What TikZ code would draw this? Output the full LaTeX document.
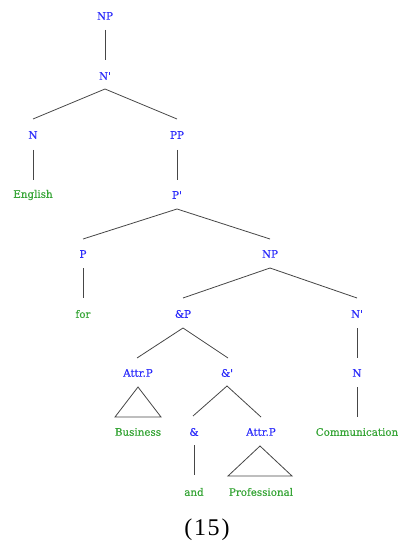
\documentclass[tikz,border=0pt]{standalone}
\usepackage{fontspec}
\setmainfont{DejaVu Serif}
\newfontfamily\lblfont{DejaVu Serif}[FakeBold=0.5]
\newfontfamily\timesfont{Liberation Serif}
\definecolor{catblue}{RGB}{45,45,250}
\definecolor{wordgreen}{RGB}{55,165,55}
\definecolor{edgegray}{RGB}{70,70,70}
\newcommand{\pr}{\char"27}
\begin{document}
\begin{tikzpicture}[x=1pt,y=-1pt,
  cat/.style={text=catblue,font=\lblfont\fontsize{10.3}{11}\selectfont,inner sep=0pt,anchor=center},
  word/.style={text=wordgreen,font=\lblfont\fontsize{10.3}{11}\selectfont,inner sep=0pt,anchor=center},
  edge/.style={draw=edgegray,line width=0.8pt}]
\useasboundingbox (0,0) rectangle (402,545);
% nodes
\node[cat] (np1) at (105,16) {NP};
\node[cat] (nb1) at (105,76) {N\pr};
\node[cat] (n1) at (33,135) {N};
\node[cat] (pp) at (177,135) {PP};
\node[word] (english) at (33,195) {English};
\node[cat] (pb) at (177,195) {P\pr};
\node[cat] (p) at (83,254) {P};
\node[cat] (np2) at (270,254) {NP};
\node[word] (for) at (83,314) {for};
\node[cat] (andp) at (183,314) {\&P};
\node[cat] (nb2) at (357,314) {N\pr};
\node[cat] (attr1) at (138,373) {Attr.P};
\node[cat] (andb) at (227,373) {\&\pr};
\node[cat] (n2) at (357,373) {N};
\node[word] (business) at (138,432) {Business};
\node[cat] (amp) at (194,432) {\&};
\node[cat] (attr2) at (261,432) {Attr.P};
\node[word] (comm) at (357,432) {Communication};
\node[word] (and) at (194,492) {and};
\node[word] (prof) at (261,492) {Professional};
\node[text=black,font=\timesfont\fontsize{24}{26}\selectfont,inner sep=0pt] (num) at (207,530) {(\kern2pt 1\kern1.5pt 5\kern2pt )};
% coordinates
\coordinate (np1b) at (105,30);
\coordinate (nb1t) at (105,60);
\coordinate (nb1b) at (105,89);
\coordinate (n1t) at (33,119);
\coordinate (ppt) at (177,119);
\coordinate (n1b) at (33,150);
\coordinate (engt) at (33,180);
\coordinate (ppb) at (177,150);
\coordinate (pbt) at (177,180);
\coordinate (pbb) at (177,209);
\coordinate (pt) at (83,239);
\coordinate (np2t) at (270,239);
\coordinate (pb2) at (83,268);
\coordinate (fort) at (83,298);
\coordinate (np2b) at (270,268);
\coordinate (andpt) at (183,298);
\coordinate (nb2t) at (357,298);
\coordinate (andpb) at (183,328);
\coordinate (attr1t) at (137,358);
\coordinate (andbt) at (228,358);
\coordinate (nb2b) at (357,328);
\coordinate (n2t) at (357,358);
\coordinate (attr1b) at (138,387);
\coordinate (bl1) at (115,417);
\coordinate (br1) at (161,417);
\coordinate (andbb) at (227,386);
\coordinate (ampt) at (193,416);
\coordinate (attr2t) at (261,417);
\coordinate (n2b) at (357,387);
\coordinate (commt) at (357,417);
\coordinate (ampb) at (194,445);
\coordinate (andt) at (194,475);
\coordinate (attr2b) at (260,446);
\coordinate (bl2) at (228,476);
\coordinate (br2) at (292,476);
% edges
\draw[edge] (np1b) -- (nb1t);
\draw[edge] (n1t) -- (nb1b) -- (ppt);
\draw[edge] (n1b) -- (engt);
\draw[edge] (ppb) -- (pbt);
\draw[edge] (pt) -- (pbb) -- (np2t);
\draw[edge] (pb2) -- (fort);
\draw[edge] (andpt) -- (np2b) -- (nb2t);
\draw[edge] (attr1t) -- (andpb) -- (andbt);
\draw[edge] (nb2b) -- (n2t);
\draw[edge] (attr1b) -- (bl1) -- (br1) -- cycle;
\draw[edge] (ampt) -- (andbb) -- (attr2t);
\draw[edge] (n2b) -- (commt);
\draw[edge] (ampb) -- (andt);
\draw[edge] (attr2b) -- (bl2) -- (br2) -- cycle;
\end{tikzpicture}
\end{document}
